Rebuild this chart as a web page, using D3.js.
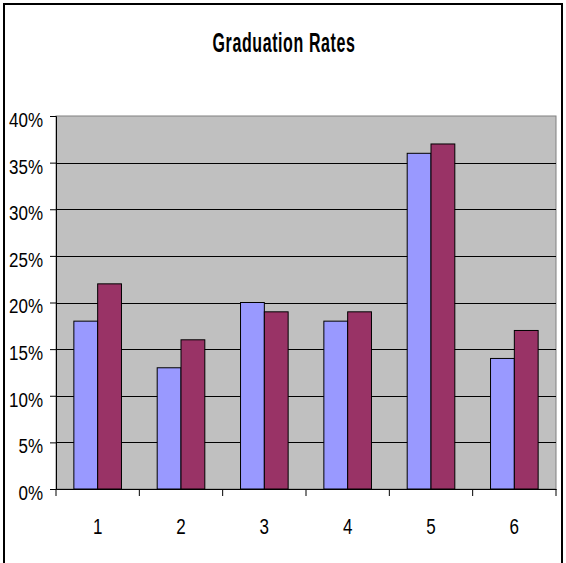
<!DOCTYPE html>
<html>
<head>
<meta charset="utf-8">
<script src="https://cdn.jsdelivr.net/npm/d3@7"></script>
<style>
  body { margin: 0; background: #fff; }
  text { font-family: "Liberation Sans Narrow", "Arial Narrow", "Liberation Sans", sans-serif; }
</style>
</head>
<body>
<svg width="566" height="563"></svg>
<script>
// chart data
var categories = ["1", "2", "3", "4", "5", "6"];
var seriesNames = ["Series1", "Series2"];
var series1 = [0.18, 0.13, 0.20, 0.18, 0.36, 0.14];
var series2 = [0.22, 0.16, 0.19, 0.19, 0.37, 0.17];
var yTicks = [0, 0.05, 0.10, 0.15, 0.20, 0.25, 0.30, 0.35, 0.40];
var title = "Graduation Rates";

var svg = d3.select("svg"),
    width = +svg.attr("width"),
    height = +svg.attr("height");

var plot = {left: 56, right: 556, top: 116, bottom: 489};
var colors = ["#9999FF", "#993366"];

// outer chart border (bottom is cut off in the original)
svg.append("rect")
    .attr("x", 4).attr("y", 4)
    .attr("width", 558).attr("height", 620)
    .attr("fill", "#fff")
    .attr("stroke", "#000")
    .attr("stroke-width", 2);

var x = d3.scaleBand()
    .domain(categories)
    .range([plot.left, plot.right])
    .padding(0);

// gap width 150% -> each bar is step / 3.5
var x1 = d3.scaleBand()
    .domain(seriesNames)
    .range([0, x.bandwidth()])
    .paddingInner(0)
    .paddingOuter(0.75);

var y = d3.scaleLinear()
    .domain([0, 0.4])
    .range([plot.bottom, plot.top]);

// plot area
svg.append("rect")
    .attr("x", plot.left).attr("y", plot.top)
    .attr("width", plot.right - plot.left)
    .attr("height", plot.bottom - plot.top)
    .attr("fill", "#C0C0C0")
    .attr("stroke", "#808080")
    .attr("stroke-width", 1);

// gridlines
svg.append("g")
    .selectAll("line")
    .data(yTicks.slice(1, -1))
    .join("line")
      .attr("x1", plot.left).attr("x2", plot.right)
      .attr("y1", d => Math.round(y(d)) + 0.5)
      .attr("y2", d => Math.round(y(d)) + 0.5)
      .attr("stroke", "#000")
      .attr("stroke-width", 1);

// bars
var data = categories.map((c, i) => ({cat: c, values: [series1[i], series2[i]]}));

svg.append("g")
    .selectAll("g")
    .data(data)
    .join("g")
      .attr("transform", d => "translate(" + x(d.cat) + ",0)")
    .selectAll("rect")
    .data(d => d.values.map((v, j) => ({name: seriesNames[j], value: v, j: j})))
    .join("rect")
      .attr("x", d => x1(d.name))
      .attr("y", d => y(d.value))
      .attr("width", x1.bandwidth())
      .attr("height", d => y(0) - y(d.value))
      .attr("fill", d => colors[d.j])
      .attr("stroke", "#000")
      .attr("stroke-width", 1);

// y axis
var yAxis = svg.append("g")
    .attr("transform", "translate(" + plot.left + ",0)")
    .call(d3.axisLeft(y).tickValues(yTicks).tickFormat(d3.format(".0%")).tickSize(6).tickPadding(6));
yAxis.select(".domain").attr("stroke", "#000");
yAxis.selectAll(".tick line").attr("stroke", "#000");
yAxis.selectAll(".tick text")
    .attr("font-size", 17)
    .attr("fill", "#000")
    .attr("dy", null)
    .attr("y", 0)
    .attr("dominant-baseline", "central")
    .attr("transform", "translate(-1,3.5) scale(1,1.15)");

// x axis
var xAxis = svg.append("g")
    .attr("transform", "translate(0," + plot.bottom + ")")
    .call(d3.axisBottom(x).tickSize(0).tickPadding(0));
xAxis.select(".domain").attr("stroke", "#000");
xAxis.selectAll(".tick text")
    .attr("font-size", 17)
    .attr("fill", "#000")
    .attr("dy", null)
    .attr("y", 0)
    .attr("dominant-baseline", "central")
    .attr("transform", "translate(0,37) scale(1,1.3)");

// category separator ticks
svg.append("g")
    .selectAll("line")
    .data(categories.concat(["end"]))
    .join("line")
      .attr("x1", (d, i) => plot.left + i * x.step())
      .attr("x2", (d, i) => plot.left + i * x.step())
      .attr("y1", plot.bottom)
      .attr("y2", plot.bottom + 7)
      .attr("stroke", "#000");

// title
svg.append("text")
    .attr("x", 284)
    .attr("y", 0)
    .attr("text-anchor", "middle")
    .attr("font-weight", "bold")
    .attr("font-size", 16)
    .attr("letter-spacing", 0.6)
    .attr("transform", "translate(0,52) scale(1,1.75)")
    .text(title);
</script>
</body>
</html>
